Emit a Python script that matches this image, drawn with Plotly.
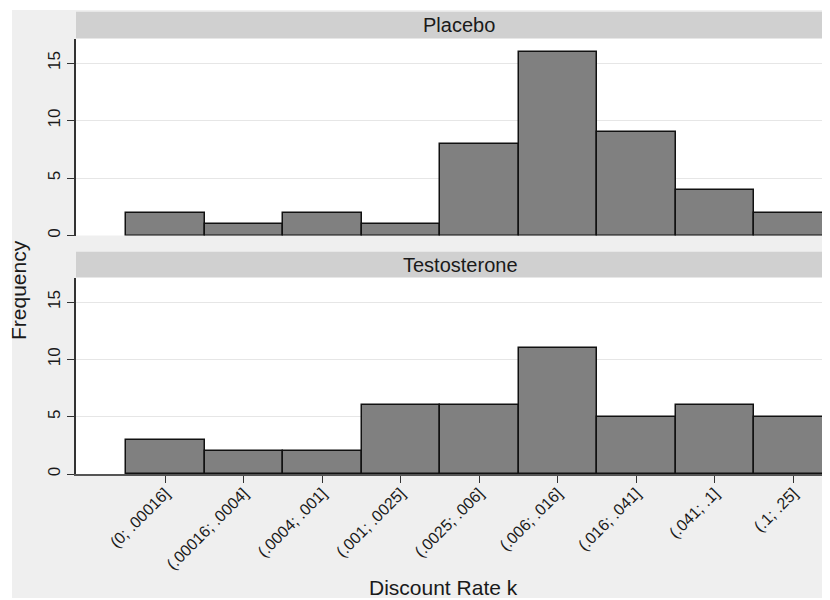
import plotly.graph_objects as go

categories = ["(0; .00016]", "(.00016; .0004]", "(.0004; .001]", "(.001; .0025]",
              "(.0025; .006]", "(.006; .016]", "(.016; .041]", "(.041; .1]", "(.1; .25]"]
placebo = [2, 1, 2, 1, 8, 16, 9, 4, 2]
testosterone = [3, 2, 2, 6, 6, 11, 5, 6, 5]
panel_titles = ["Placebo", "Testosterone"]
y_ticks = [0, 5, 10, 15]

W, H = 830, 600
OFF = 8  # page body margin offset
FONT = "Liberation Sans, Arial, Helvetica, sans-serif"
BAR = "#808080"
TXT = "#1a1a1a"

def py(pix):
    return 1 - (pix - OFF) / H

def px(pix):
    return (pix - OFF) / W

fig = go.Figure()
for i, vals in enumerate([placebo, testosterone]):
    fig.add_trace(go.Bar(
        x=categories, y=vals, width=1,
        marker=dict(color=BAR, line=dict(color="#111111", width=1.5)),
        xaxis="x" if i == 0 else "x2", yaxis="y" if i == 0 else "y2",
        showlegend=False, hoverinfo="x+y"))

xdom = [px(76), 1]
# right edge of figure lies at page x = 838; bar centres at 165.25 + 78.5*i
xr = [(76 - 165.25) / 78.5, (838 - 165.25) / 78.5]
yr = [0, 17.1]
yax = dict(range=yr, tickvals=y_ticks, ticks="outside", ticklen=7, tickwidth=1.3,
           tickcolor="#333333", showline=True, linecolor="#333333", linewidth=1.5,
           showgrid=True, gridcolor="#e6e6e6", gridwidth=1, zeroline=False,
           tickangle=-90, tickfont=dict(family=FONT, size=17, color=TXT),
           automargin=False, fixedrange=True)

fig.update_layout(
    width=W, height=H,
    margin=dict(l=0, r=0, t=0, b=0),
    paper_bgcolor="#efefef", plot_bgcolor="white",
    bargap=0,
    font=dict(family=FONT, color=TXT),
    xaxis=dict(domain=xdom, range=xr, type="category", anchor="y",
               showticklabels=False, ticks="", showline=False, showgrid=False,
               zeroline=False, automargin=False),
    yaxis=dict(domain=[py(235.5), py(39)], anchor="x", **yax),
    xaxis2=dict(domain=xdom, range=xr, type="category", anchor="y2",
                ticks="outside", ticklen=7, tickwidth=1.3, tickcolor="#333333",
                showline=True, linecolor="#555555", linewidth=1.5,
                showgrid=False, zeroline=False, tickangle=-45,
                ticklabelstandoff=-5,
                tickfont=dict(family=FONT, size=16, color=TXT), automargin=False),
    yaxis2=dict(domain=[py(474), py(278)], anchor="x2", **yax),
)

shapes = [
    # white page margins
    dict(type="rect", xref="paper", yref="paper", x0=0, x1=px(12), y0=0, y1=1,
         fillcolor="white", line=dict(width=0), layer="below"),
    dict(type="rect", xref="paper", yref="paper", x0=0, x1=1, y0=py(10), y1=1,
         fillcolor="white", line=dict(width=0), layer="below"),
    dict(type="rect", xref="paper", yref="paper", x0=0, x1=1, y0=0, y1=py(598),
         fillcolor="white", line=dict(width=0), layer="below"),
    # strips
    dict(type="rect", xref="paper", yref="paper", x0=px(76), x1=1,
         y0=py(38.3), y1=py(11.7), fillcolor="#d0d0d0", line=dict(width=0), layer="below"),
    dict(type="rect", xref="paper", yref="paper", x0=px(76), x1=1,
         y0=py(277.3), y1=py(251.7), fillcolor="#d0d0d0", line=dict(width=0), layer="below"),
]
fig.update_layout(shapes=shapes)

def ann(text, x, y, size, angle=0):
    return dict(text=text, x=px(x), y=py(y), xref="paper", yref="paper",
                xanchor="center", yanchor="middle", showarrow=False, textangle=angle,
                font=dict(family=FONT, size=size, color=TXT))

annotations = [
    ann(panel_titles[0], 459, 25, 20),
    ann(panel_titles[1], 460, 264.5, 20),
    ann("Frequency", 18, 290, 21, -90),
    ann("Discount Rate k", 443, 587, 21),
]
fig.update_layout(annotations=annotations)

fig.write_html("out.html")
